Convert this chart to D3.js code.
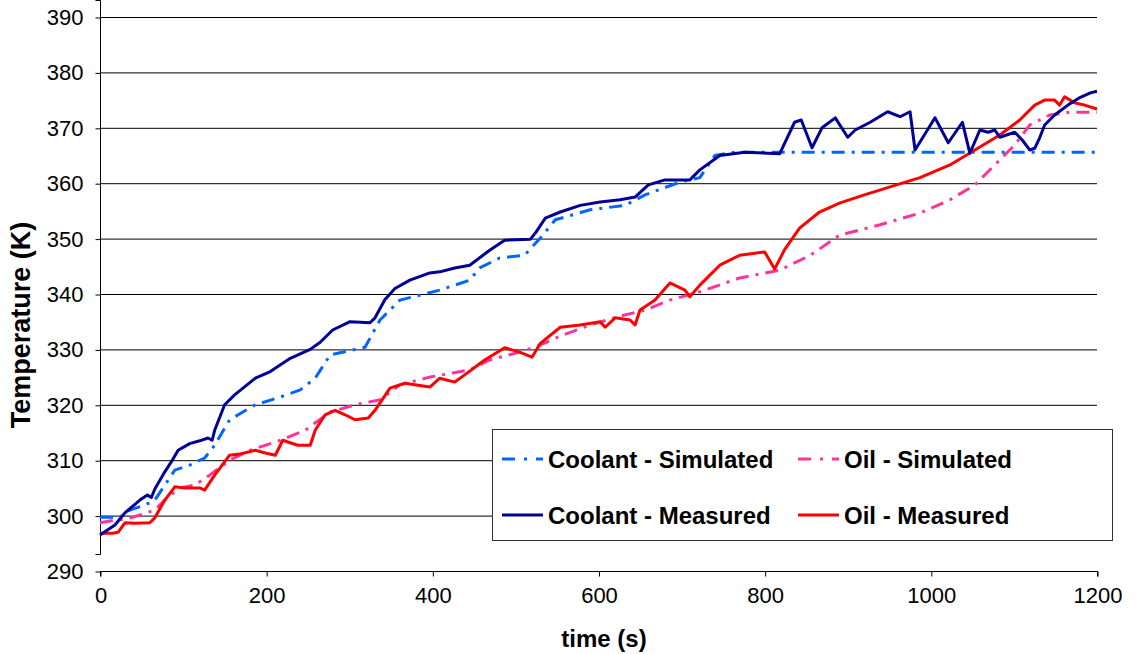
<!DOCTYPE html>
<html>
<head>
<meta charset="utf-8">
<script src="https://cdn.jsdelivr.net/npm/d3@7"></script>
<style>
  body { margin: 0; background: #fff; }
  text { font-family: "Liberation Sans", Arial, sans-serif; }
</style>
</head>
<body>
<script>
//series data: [time (s), temperature (K)]
var coolantSim = [[0,299.7],[24,299.7],[36,301],[54,301.9],[66,302.8],[78,305.5],[90,308.2],[108,309.1],[126,310.4],[138,312.7],[156,317.3],[187,320],[217,321.4],[241,322.7],[259,324.8],[277,329],[319,330.4],[337,335.3],[361,338.9],[409,340.7],[445,342.5],[457,344.7],[481,346.5],[511,347],[530,350.1],[548,353.4],[590,355.2],[632,356],[656,357.9],[698,360.2],[722,361],[740,365],[764,365.6],[1200,365.6]];

var oilSim = [[0,298.7],[18,299.2],[30,299.3],[48,300.1],[66,301],[78,302.8],[96,305],[114,305.5],[132,307.3],[156,310],[181,311.8],[217,313.6],[247,315.4],[277,318.7],[307,320],[337,320.9],[361,323.6],[397,325],[445,326.3],[469,328.1],[505,329.5],[530,330.8],[554,332.4],[590,334.4],[626,336],[656,337.1],[686,338.9],[722,340.4],[770,342.9],[818,344.3],[855,347],[890,350.6],[939,352.5],[987,354.6],[1023,357],[1053,359.7],[1077,363.3],[1101,366.9],[1119,370.5],[1143,372.3],[1167,372.8],[1200,372.8]];

var coolantMeas = [[0,296.5],[18,298.3],[30,300.5],[48,302.8],[57,303.7],[62,303.3],[66,304.8],[78,307.9],[87,310],[94,311.8],[108,313],[120,313.5],[130,314],[135,313.6],[138,315.4],[150,320],[162,321.8],[187,324.8],[205,326],[229,328.4],[253,330],[265,331.3],[280,333.5],[301,335],[325,334.8],[331,335.7],[343,339],[355,341],[373,342.5],[397,343.8],[409,344],[427,344.7],[445,345.2],[469,347.9],[487,349.7],[518,349.9],[524,351],[536,353.7],[554,354.8],[578,356],[602,356.6],[626,357],[644,357.5],[660,359.7],[680,360.6],[710,360.6],[722,362.4],[746,365],[776,365.6],[818,365.3],[836,371],[844,371.4],[857,366.4],[869,370],[885,371.8],[900,368.3],[909,369.6],[927,371],[948,372.9],[963,372],[975,372.9],[981,366],[1005,371.8],[1021,367.3],[1038,371],[1047,365.4],[1059,369.6],[1069,369.2],[1077,369.6],[1083,368.3],[1101,369.2],[1110,367.8],[1119,366],[1125,366.3],[1131,368.2],[1137,370.5],[1149,372.3],[1165,374.1],[1180,375.5],[1192,376.3],[1200,376.6]];

var oilMeas = [[0,296.8],[15,296.8],[22,297],[30,298.7],[42,298.6],[60,298.7],[66,299.6],[78,302.8],[90,305.2],[102,305],[120,305],[126,304.6],[138,307.3],[156,310.9],[168,311.1],[187,311.8],[199,311.3],[211,310.9],[220,313.6],[238,312.7],[253,312.7],[259,315.4],[271,318.2],[283,319],[295,318.2],[307,317.3],[323,317.6],[331,319],[349,323],[367,323.9],[397,323.2],[409,324.8],[427,324.1],[439,325.4],[463,328.1],[487,330.3],[505,329.5],[520,328.6],[530,331.1],[554,334],[578,334.4],[602,335],[608,334],[620,335.7],[638,335.3],[644,334.4],[650,337.1],[668,338.9],[686,342],[704,340.7],[710,339.5],[722,341.6],[746,345.2],[770,347],[800,347.6],[812,344.5],[824,348],[842,351.9],[866,354.8],[890,356.4],[920,357.9],[950,359.3],[987,361],[1023,363.3],[1053,366],[1083,368.7],[1107,371.4],[1125,374.1],[1137,375],[1149,375],[1155,374.1],[1161,375.6],[1173,374.5],[1185,374.1],[1200,373.4]];

var xTicks = [0, 200, 400, 600, 800, 1000, 1200];
var yTicks = [290, 300, 310, 320, 330, 340, 350, 360, 370, 380, 390];

var legendItems = [
    {name: "Coolant - Simulated", data: coolantSim, color: "#0066ff", dash: "13,7,3,7"},
    {name: "Oil - Simulated", data: oilSim, color: "#ff3399", dash: "13,7,3,7"},
    {name: "Coolant - Measured", data: coolantMeas, color: "#000099", dash: null},
    {name: "Oil - Measured", data: oilMeas, color: "#ff0000", dash: null}
];

var width = 1136,
    height = 654;

var svg = d3.select("body")
    .append("svg")
    .attr("width", width)
    .attr("height", height);

var x = d3.scaleLinear().domain([0, 1200]).range([100, 1097]);
var y = d3.scaleLinear().domain([290, 390]).range([571, 17]);

//horizontal gridlines
svg.selectAll(".grid")
    .data(yTicks.slice(1))
    .enter()
    .append("line")
    .attr("class", "grid")
    .attr("x1", 100)
    .attr("x2", 1097)
    .attr("y1", function(d){ return y(d) + 0.5; })
    .attr("y2", function(d){ return y(d) + 0.5; })
    .attr("stroke", "#000")
    .attr("stroke-width", 1);

//axes
var yAxis = svg.append("g")
    .attr("transform", "translate(100.5,0.5)")
    .call(d3.axisLeft(y).tickValues(yTicks).tickSize(5).tickPadding(12).tickFormat(d3.format("d")));

var xAxis = svg.append("g")
    .attr("transform", "translate(0.5," + (y(290) + 0.5) + ")")
    .call(d3.axisBottom(x).tickValues(xTicks).tickSize(5).tickPadding(11).tickFormat(d3.format("d")));

[xAxis, yAxis].forEach(function(g){
    g.select(".domain").attr("stroke", "#000");
    g.selectAll(".tick line").attr("stroke", "#000");
    g.selectAll("text")
        .attr("fill", "#000")
        .style("font-size", "22px")
        .style("font-family", "Liberation Sans, Arial, sans-serif");
});
xAxis.select(".domain").attr("d", "M100,5V0H1097V5");
yAxis.select(".domain").attr("d", "M-5,554H0V0H-5");

//axis titles
svg.append("text")
    .attr("x", 604)
    .attr("y", 647)
    .attr("text-anchor", "middle")
    .style("font-size", "24px")
    .style("font-weight", "bold")
    .text("time (s)");

svg.append("text")
    .attr("transform", "translate(30,325) rotate(-90)")
    .attr("text-anchor", "middle")
    .style("font-size", "27px")
    .style("font-weight", "bold")
    .text("Temperature (K)");

//series lines
var line = d3.line()
    .x(function(d){ return x(d[0]); })
    .y(function(d){ return y(d[1]); });

var drawOrder = [legendItems[1], legendItems[0], legendItems[3], legendItems[2]];
svg.selectAll(".series")
    .data(drawOrder)
    .enter()
    .append("path")
    .attr("class", "series")
    .attr("d", function(d){ return line(d.data); })
    .attr("fill", "none")
    .attr("stroke", function(d){ return d.color; })
    .attr("stroke-width", 3)
    .attr("stroke-linejoin", "round")
    .attr("stroke-dasharray", function(d){ return d.dash; });

//legend
var legend = svg.append("g");
legend.append("rect")
    .attr("x", 492.5)
    .attr("y", 429.5)
    .attr("width", 620)
    .attr("height", 111)
    .attr("fill", "#fff")
    .attr("stroke", "#333")
    .attr("stroke-width", 1);

var entries = legend.selectAll(".entry")
    .data(legendItems)
    .enter()
    .append("g")
    .attr("class", "entry")
    .attr("transform", function(d, i){
        return "translate(" + (i % 2 === 0 ? 502 : 798) + "," + (i < 2 ? 459 : 515) + ")";
    });

entries.append("line")
    .attr("x1", 0)
    .attr("x2", 41)
    .attr("stroke", function(d){ return d.color; })
    .attr("stroke-width", 3)
    .attr("stroke-dasharray", function(d){ return d.dash ? "13,9,3,9" : null; });

entries.append("text")
    .attr("x", 46)
    .attr("y", 9)
    .style("font-size", "24px")
    .style("font-weight", "bold")
    .text(function(d){ return d.name; });
</script>
</body>
</html>
